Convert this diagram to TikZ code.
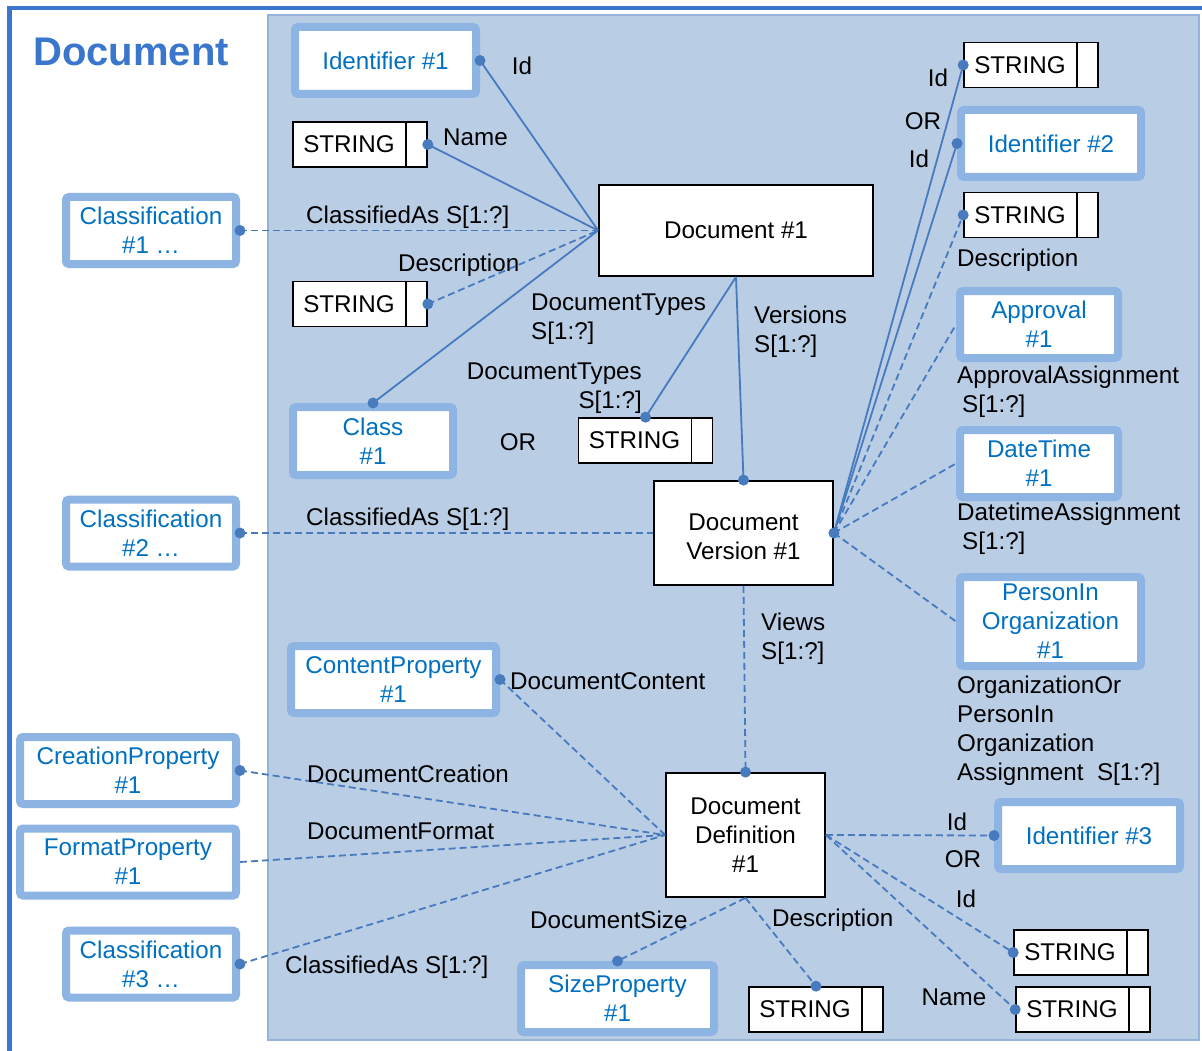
\documentclass[tikz,border=0pt]{standalone}
\usepackage{fontspec}
\setmainfont{Liberation Sans}
\usetikzlibrary{positioning}
\definecolor{FrameBlue}{RGB}{58,118,204}
\definecolor{PanelBlue}{RGB}{185,205,229}
\definecolor{PanelEdge}{RGB}{150,180,216}
\definecolor{BoxBlue}{RGB}{142,180,227}
\definecolor{TextBlue}{RGB}{0,112,192}
\definecolor{LinkBlue}{RGB}{72,122,190}

\begin{document}
\begin{tikzpicture}[x=1pt, y=-1pt, font=\fontsize{24.2}{29}\selectfont,
  entity/.style={draw=BoxBlue, line width=8pt, fill=white, text=TextBlue, align=center,
    rounded corners=3pt, minimum height=67pt, inner sep=0pt},
  record/.style={draw, line width=1.8pt, fill=white, align=center, inner sep=0pt},
  strbox/.style={draw, line width=1.6pt, fill=white, inner sep=0pt, minimum height=45pt},
  link/.style={LinkBlue, line width=1.8pt},
  dlink/.style={link, dash pattern=on 7pt off 4pt},
  lbl/.style={inner sep=0pt, align=left, yshift=-2pt}]
\useasboundingbox (0,0) rectangle (1202,1051);
\fill[white] (0,0) rectangle (1202,1051);
\draw[FrameBlue, line width=4.5pt] (9.5,1051) -- (9.5,8) -- (1202,8);
\draw[PanelEdge, fill=PanelBlue, line width=2.5pt] (268,15) rectangle (1199,1040);
\node[text=FrameBlue, font=\fontsize{40}{48}\selectfont\bfseries] (title) at (131,52) {Document};

\node[entity, minimum width=181pt] (id1) at (385.5,60.5) {Identifier \#1};
\node[entity, minimum width=170pt] (clf1) at (151,230.5) {Classification\\\#1 …};
\node[entity, minimum width=160pt, minimum height=68pt] (cls) at (373,441) {Class\\\#1};
\node[entity, minimum width=170pt] (clf2) at (151,533) {Classification\\\#2 …};
\node[entity, minimum width=205pt] (cont) at (393.5,679.5) {ContentProperty\\\#1};
\node[entity, minimum width=216pt] (crea) at (128,770.5) {CreationProperty\\\#1};
\node[entity, minimum width=216pt] (fmt) at (128,862) {FormatProperty\\\#1};
\node[entity, minimum width=170pt] (clf3) at (151,964) {Classification\\\#3 …};
\node[entity, minimum width=193pt] (size) at (617.5,998.5) {SizeProperty\\\#1};
\node[entity, minimum width=180pt] (id2) at (1051,143.5) {Identifier \#2};
\node[entity, minimum width=158pt] (appr) at (1039,324.5) {Approval\\\#1};
\node[entity, minimum width=158pt] (dt) at (1039,463.5) {DateTime\\\#1};
\node[entity, minimum width=181pt, minimum height=89pt] (pio) at (1050.5,621.5) {PersonIn\\Organization\\\#1};
\node[entity, minimum width=182pt] (id3) at (1089,835.5) {Identifier \#3};

\node[record, minimum width=274pt, minimum height=91pt] (doc) at (736,230.5) {Document \#1};
\node[record, minimum width=179pt, minimum height=104pt] (ver) at (743.5,533)
  {\raisebox{-6pt}[\height][\depth]{\begin{tabular}{@{}c@{}}Document\\Version \#1\end{tabular}}};
\node[record, minimum width=159pt, minimum height=124pt] (def) at (745.5,835) {Document\\Definition\\\#1};

\foreach \n/\x/\y in {s1/360/144.5, s2/360/304, s3/645.5/440.5, s4/1031/65, s5/1031/215,
    s6/1081/952.5, s7/1083/1009.5, s8/816/1009.5} {
  \node[strbox] (\n) at (\x,\y) {\makebox[112pt]{STRING}\makebox[22pt]{}};
  \draw[line width=1.6pt] ([xshift=-22pt]\n.north east) -- ([xshift=-22pt]\n.south east);
}

\foreach \a/\b in {id1.east/doc.west, s1.east/doc.west, cls.north/doc.west,
    doc.south/s3.north, doc.south/ver.north, ver.east/s4.west, ver.east/id2.west}
  \draw[link] (\a) -- (\b);
\foreach \a/\b in {clf1.east/doc.west, s2.east/doc.west, clf2.east/ver.west,
    ver.east/s5.west, ver.east/appr.west, ver.east/dt.west, ver.east/pio.west,
    ver.south/def.north, cont.east/def.west, crea.east/def.west, fmt.east/def.west,
    clf3.east/def.west, def.east/id3.west, def.east/s6.west, def.east/s7.west,
    def.south/size.north, def.south/s8.north}
  \draw[dlink] (\a) -- (\b);
\foreach \p in {id1.east, s1.east, cls.north, clf1.east, s2.east, s3.north, ver.north,
    clf2.east, ver.east, s4.west, id2.west, s5.west, cont.east, crea.east, clf3.east,
    def.north, id3.west, s6.west, s7.west, size.north, s8.north}
  \fill[LinkBlue] (\p) circle[radius=5.5pt];

\node[lbl] (lid1) at (522,64) {Id};
\node[lbl, anchor=west] (lname1) at (443,135) {Name};
\node[lbl, anchor=west] (lclf1) at (306,215) {ClassifiedAs S[1:?]};
\node[lbl, anchor=west] (ldesc1) at (398,263) {Description};
\node[lbl, anchor=west] (ltypes1) at (531,317.5) {DocumentTypes\\S[1:?]};
\node[lbl, anchor=west] (lvers) at (754,329.5) {Versions\\S[1:?]};
\node[lbl, anchor=east, align=right] (ltypes2) at (642,386) {DocumentTypes\\S[1:?]};
\node[lbl] (lor1) at (518,440) {OR};
\node[lbl, anchor=west] (lclf2) at (306,517) {ClassifiedAs S[1:?]};
\node[lbl] (lid2) at (938,76) {Id};
\node[lbl] (lor2) at (923,119) {OR};
\node[lbl] (lid3) at (919,157) {Id};
\node[lbl, anchor=west] (ldesc2) at (957,258) {Description};
\node[lbl, anchor=west] (lappr) at (957,390) {ApprovalAssignment\\\hspace*{5pt}S[1:?]};
\node[lbl, anchor=west] (ldt) at (957,527) {DatetimeAssignment\\\hspace*{5pt}S[1:?]};
\node[lbl, anchor=west] (lpio) at (957,728.5) {OrganizationOr\\PersonIn\\Organization\\Assignment\ \ S[1:?]};
\node[lbl, anchor=west] (lviews) at (761,636.5) {Views\\S[1:?]};
\node[lbl, anchor=west] (lcont) at (510,679) {DocumentContent};
\node[lbl, anchor=west] (lcrea) at (307,772) {DocumentCreation};
\node[lbl, anchor=west] (lfmt) at (307,829) {DocumentFormat};
\node[lbl, anchor=west] (lclf3) at (285,965) {ClassifiedAs S[1:?]};
\node[lbl, anchor=west] (lsize) at (530,918) {DocumentSize};
\node[lbl, anchor=west] (ldesc3) at (772,918) {Description};
\node[lbl] (lid4) at (957,820) {Id};
\node[lbl] (lor3) at (963,857) {OR};
\node[lbl] (lid5) at (966,897) {Id};
\node[lbl] (lname2) at (954,995) {Name};
\end{tikzpicture}
\end{document}
